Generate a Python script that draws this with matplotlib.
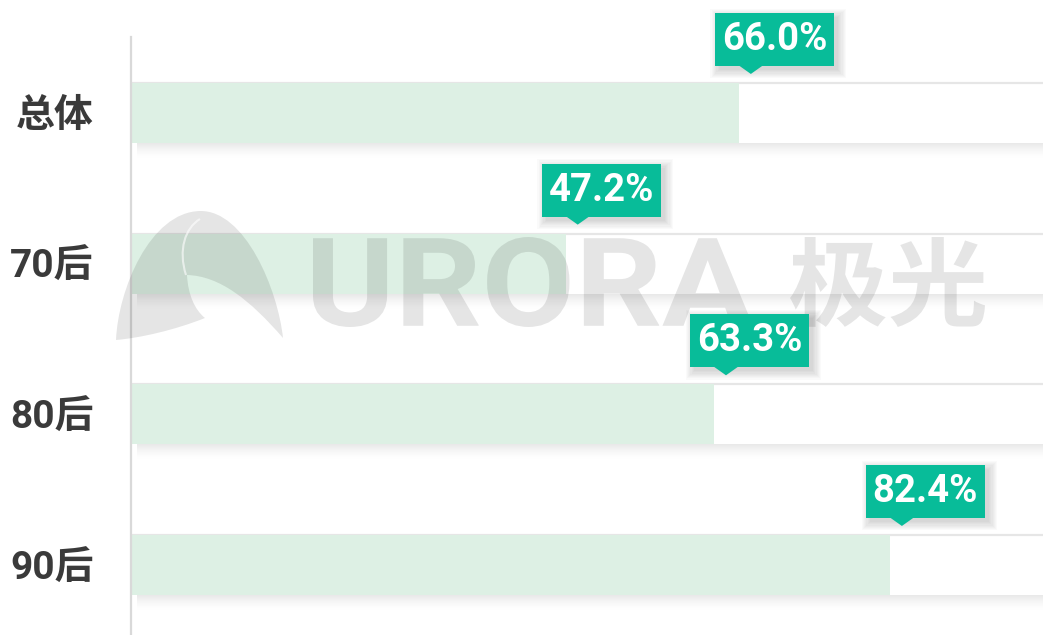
import matplotlib
matplotlib.use('Agg')
import matplotlib.pyplot as plt
from matplotlib.patches import Rectangle, Polygon, PathPatch
from matplotlib.textpath import TextPath
from matplotlib.font_manager import FontProperties
from matplotlib.path import Path
import matplotlib.transforms as mtransforms

categories = ['总体', '70后', '80后', '90后']
values = [66.0, 47.2, 63.3, 82.4]
labels = ['66.0%', '47.2%', '63.3%', '82.4%']

W, H = 1043, 635
fig = plt.figure(figsize=(W / 100, H / 100), dpi=100)
fig.patch.set_facecolor('white')

ax = fig.add_axes([131 / W, 0, 921 / W, (635 - 37) / H])
ax.set_xlim(0, 100)
ax.set_ylim(3.465, -0.504)
ax.set_facecolor('none')
for s in ['top', 'right', 'bottom']:
    ax.spines[s].set_visible(False)
ax.spines['left'].set_color('#d9d9d9')
ax.spines['left'].set_linewidth(1.6)
ax.spines['left'].set_zorder(6)
ax.set_xticks([])
ys = list(range(len(categories)))
ax.set_yticks(ys)
ax.set_yticklabels(categories, fontsize=28, fontweight='bold', color='#3a3a3a',
                   family=['Roboto', 'Noto Sans CJK SC'])
ax.tick_params(axis='y', length=0, pad=27)

bh = 0.398
dy = 1 / 150.67
# background bars
ax.barh(ys, [100] * len(ys), height=bh, color='white', zorder=1)
for y in ys:
    top = y - bh / 2
    ax.hlines(top, 0, 100, color='#e6e6e6', lw=1.6, zorder=1.5)
    # shadow below
    for k in range(16):
        a = 0.085 * (1 - k / 16) ** 1.6
        ax.add_patch(Rectangle((0.6, y + bh / 2 + k * dy), 100, dy, color='black',
                               alpha=a, lw=0, zorder=0.5))
# value bars
ax.barh(ys, values, height=bh, color='#ddf0e4', zorder=2)

# watermark (display pixel coords, y up)
def px(x, y):
    return (x, H - y)

wm_color = (0, 0, 0, 0.10)
def fit_text(s, prop, x0, x1, y0, y1):
    tp = TextPath((0, 0), s, size=100, prop=prop)
    ext = tp.get_extents()
    sx = (x1 - x0) / ext.width
    sy = (y1 - y0) / ext.height
    tr = mtransforms.Affine2D().translate(-ext.x0, -ext.y0).scale(sx, sy).translate(x0, H - y1)
    p = tr.transform_path(tp)
    patch = PathPatch(p, facecolor=wm_color, edgecolor='none',
                      transform=mtransforms.IdentityTransform(), zorder=5)
    fig.add_artist(patch)

fit_text('URORA', FontProperties(family='Roboto', weight='bold'), 313, 753, 237, 327)
fit_text('极光', FontProperties(family='Noto Sans CJK SC', weight='bold'), 790, 985, 237, 327)

verts = [px(116, 340),
         px(118, 290), px(150, 212), px(200, 211),
         px(245, 210), px(278, 290), px(283, 338),
         px(250, 300), px(220, 276), px(187, 275),
         px(188, 295), px(195, 310), px(205, 318),
         px(175, 330), px(140, 338), px(116, 340)]
codes = [Path.MOVETO] + [Path.CURVE4] * 15
fig.add_artist(PathPatch(Path(verts, codes), facecolor=wm_color, edgecolor='none',
                         transform=mtransforms.IdentityTransform(), zorder=5))
hl = [px(200, 219), px(185, 228), px(178, 250), px(186, 275)]
fig.add_artist(PathPatch(Path(hl, [Path.MOVETO] + [Path.CURVE4] * 3), facecolor='none',
                         edgecolor=(1, 1, 1, 0.6), lw=1.5,
                         transform=mtransforms.IdentityTransform(), zorder=5))

# labels
fig.canvas.draw()
teal = '#08bc99'
for y, v, lab in zip(ys, values, labels):
    xd, yd = ax.transData.transform((v, y - bh / 2))
    left = xd - 24
    bottom = yd + 17
    bw, bhp = 119, 53
    # box shadow
    for k in range(8):
        e = k * 1.2
        fig.add_artist(Rectangle((left + 4 - e, bottom - 4 - e), bw + 2 * e, bhp + 2 * e,
                                 color='black', alpha=0.018, lw=0,
                                 transform=mtransforms.IdentityTransform(), zorder=6))
    fig.add_artist(Rectangle((left, bottom), bw, bhp, color=teal, lw=0,
                             transform=mtransforms.IdentityTransform(), zorder=7))
    cx = xd + 12
    fig.add_artist(Polygon([(cx - 12, bottom + 0.5), (cx + 12, bottom + 0.5), (cx, bottom - 8)],
                           closed=True, color=teal, lw=0,
                           transform=mtransforms.IdentityTransform(), zorder=7))
    fig.text((left + bw / 2) / W, (bottom + bhp / 2) / H, lab, color='white',
             fontsize=27.5, fontweight='bold', family='Roboto',
             ha='center', va='center', zorder=8)

fig.savefig('out.png', dpi=100, facecolor='white')
